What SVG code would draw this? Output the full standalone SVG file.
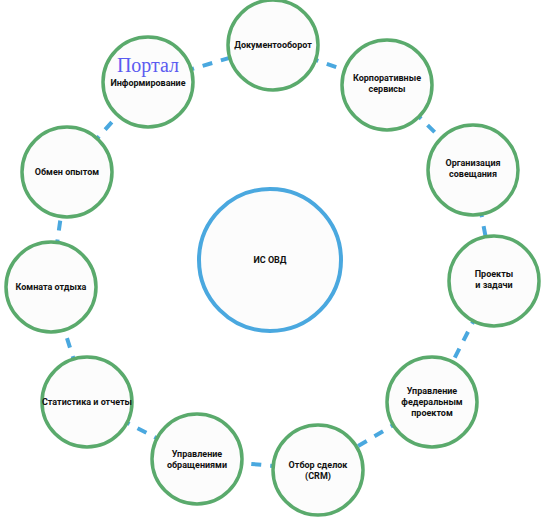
<svg xmlns="http://www.w3.org/2000/svg" width="544" height="518" viewBox="0 0 544 518">
<style>
.n{fill:#fcfcfc;stroke:#5aaa6c;stroke-width:3.5}
.c{fill:#fcfcfc;stroke:#4aa8df;stroke-width:4}
.t{font-family:Roboto,"Liberation Sans",sans-serif;font-weight:bold;font-size:9px;fill:#111;text-anchor:middle}
.e{stroke:#4aa8df;stroke-width:4;stroke-dasharray:10 9;fill:none}
</style>
<rect width="544" height="518" fill="#fff"/>
<g id="connectors">
<line class="e" x1="273" y1="45" x2="387" y2="85"/>
<line class="e" x1="387" y1="85" x2="473" y2="170"/>
<line class="e" x1="473" y1="170" x2="494" y2="281"/>
<line class="e" x1="494" y1="281" x2="432" y2="402"/>
<line class="e" x1="432" y1="402" x2="318" y2="470"/>
<line class="e" x1="318" y1="470" x2="197" y2="459"/>
<line class="e" x1="197" y1="459" x2="87" y2="402"/>
<line class="e" x1="87" y1="402" x2="51" y2="287"/>
<line class="e" x1="51" y1="287" x2="67" y2="172"/>
<line class="e" x1="67" y1="172" x2="148" y2="82"/>
<line class="e" x1="148" y1="82" x2="273" y2="45"/>
</g>
<g id="center"><circle class="c" cx="270" cy="260" r="71"/><text class="t" x="270" y="263">ИС ОВД</text></g>
<g id="doc"><circle class="n" cx="273" cy="45" r="45"/><text class="t" x="273" y="48">Документооборот</text></g>
<g id="korp"><circle class="n" cx="387" cy="85" r="45"/><text class="t" x="387" y="81">Корпоративные</text><text class="t" x="387" y="92">сервисы</text></g>
<g id="org"><circle class="n" cx="473" cy="170" r="45"/><text class="t" x="473" y="166">Организация</text><text class="t" x="473" y="177">совещания</text></g>
<g id="proj"><circle class="n" cx="494" cy="281" r="45"/><text class="t" x="494" y="277">Проекты</text><text class="t" x="494" y="288">и задачи</text></g>
<g id="fed"><circle class="n" cx="432" cy="402" r="45"/><text class="t" x="432" y="394">Управление</text><text class="t" x="432" y="405">федеральным</text><text class="t" x="432" y="416">проектом</text></g>
<g id="crm"><circle class="n" cx="318" cy="470" r="45"/><text class="t" x="318" y="468">Отбор сделок</text><text class="t" x="318" y="479">(CRM)</text></g>
<g id="obr"><circle class="n" cx="197" cy="459" r="45"/><text class="t" x="197" y="457">Управление</text><text class="t" x="197" y="468">обращениями</text></g>
<g id="stat"><circle class="n" cx="87" cy="402" r="45"/><text class="t" x="87" y="405">Статистика и отчеты</text></g>
<g id="komn"><circle class="n" cx="51" cy="287" r="45"/><text class="t" x="51" y="290">Комната отдыха</text></g>
<g id="obmen"><circle class="n" cx="67" cy="172" r="45"/><text class="t" x="67" y="175">Обмен опытом</text></g>
<g id="portal"><circle class="n" cx="148" cy="82" r="45"/><text x="148" y="72" style="font-family:'Liberation Serif',serif;font-size:20px;fill:#5b5bf0;text-anchor:middle">Портал</text><text class="t" x="148" y="86">Информирование</text></g>
</svg>
